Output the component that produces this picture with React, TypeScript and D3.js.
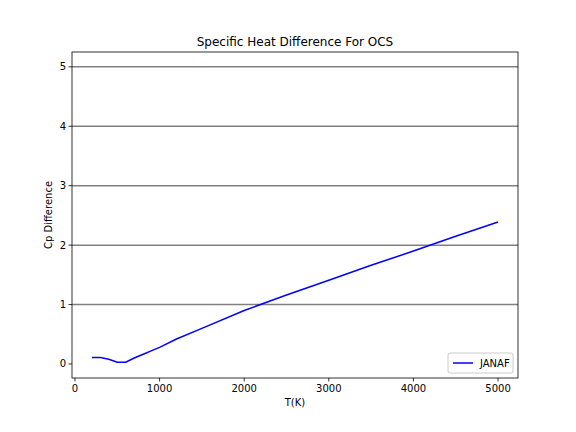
import * as d3 from "d3";

const temps = [200, 300, 400, 500, 600, 700, 800, 900, 1000, 1200, 1500, 2000, 2500, 3000, 3500, 4000, 4500, 5000];
const cpDiff = [0.11, 0.11, 0.08, 0.03, 0.03, 0.1, 0.16, 0.22, 0.28, 0.42, 0.6, 0.9, 1.16, 1.41, 1.66, 1.9, 2.15, 2.39];
const xTicks = [0, 1000, 2000, 3000, 4000, 5000];
const yTicks = [0, 1, 2, 3, 4, 5];
const hLines = [1, 2, 3, 4, 5];

export default function App() {
  const W = 576, H = 432;
  const L = 72, R = 518, T = 52, B = 378;
  const x = d3.scaleLinear().domain([-35, 5236]).range([L, R]);
  const y = d3.scaleLinear().domain([-0.236, 5.25]).range([B, T]);
  const path = d3.line<number>().x((_, i) => x(temps[i])).y((d) => y(d))(cpDiff) || "";
  const font = "DejaVu Sans";
  return (
    <svg width={W} height={H} style={{ position: "absolute", left: 0, top: 0 }} fontFamily={font}>
      <rect width={W} height={H} fill="white" />
      {hLines.map((v) => (
        <line key={v} x1={L} x2={R} y1={y(v)} y2={y(v)} stroke="#808080" strokeWidth={1.5} />
      ))}
      <path d={path} fill="none" stroke="blue" strokeWidth={1.5} />
      <rect x={L} y={T} width={R - L} height={B - T} fill="none" stroke="black" strokeWidth={0.8} />
      {xTicks.map((t) => (
        <g key={t}>
          <line x1={x(t)} x2={x(t)} y1={B} y2={B + 3.5} stroke="black" strokeWidth={0.8} />
          <text x={x(t)} y={B + 14} fontSize={10} textAnchor="middle">{t}</text>
        </g>
      ))}
      {yTicks.map((t) => (
        <g key={t}>
          <line x1={L - 3.5} x2={L} y1={y(t)} y2={y(t)} stroke="black" strokeWidth={0.8} />
          <text x={L - 6} y={y(t) + 3.5} fontSize={10} textAnchor="end">{t}</text>
        </g>
      ))}
      <text x={(L + R) / 2} y={T - 6} fontSize={12} textAnchor="middle">Specific Heat Difference For OCS</text>
      <text x={(L + R) / 2} y={B + 28} fontSize={10} textAnchor="middle">T(K)</text>
      <text transform={`translate(${L - 20},${(T + B) / 2}) rotate(-90)`} fontSize={10} textAnchor="middle">Cp Difference</text>
      <g transform={`translate(${R - 70},${B - 25})`}>
        <rect width={65} height={20} rx={2} fill="white" stroke="#cccccc" />
        <line x1={5} x2={25} y1={10} y2={10} stroke="blue" strokeWidth={1.5} />
        <text x={32} y={13.5} fontSize={10}>JANAF</text>
      </g>
    </svg>
  );
}
